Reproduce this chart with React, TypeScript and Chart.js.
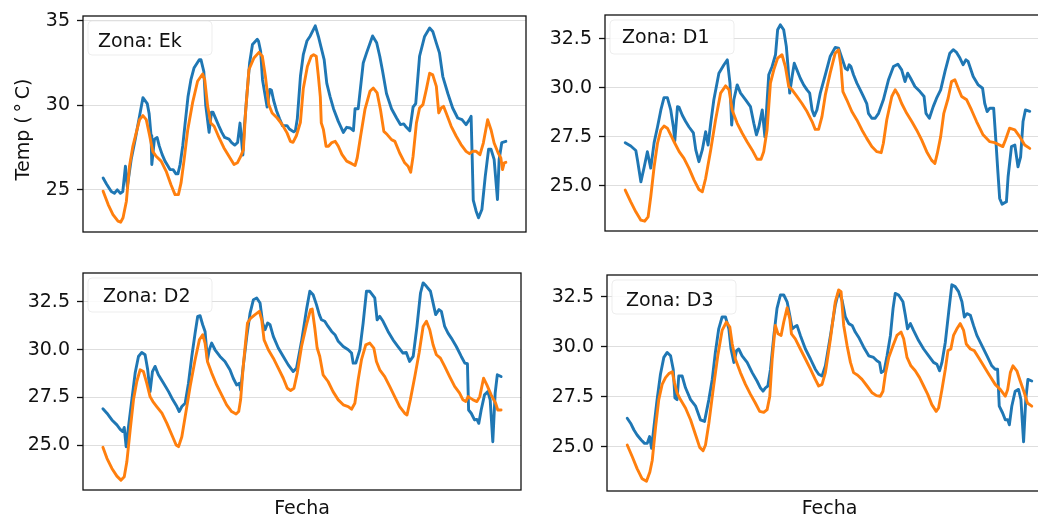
import React, { useEffect, useRef } from 'react';
import { Chart, registerables } from 'chart.js';

Chart.register(...registerables);

// ---------------- DATA (hours since start, temperature °C) ----------------
const ZONES = ['Ek', 'D1', 'D2', 'D3'];

const EK_BLUE_H = [0,1.4,3.4,4.7,5.9,7.2,8.2,9.3,10.1,11.7,13.4,15.1,16.6,18.4,19.2,20.0,20.3,21.4,22.5,23.4,24.6,25.8,27.1,27.9,29.2,30.4,31.2,32.1,33.2,34.1,35.4,36.6,37.9,40.1,40.8,42.0,42.8,44.2,45.2,45.8,47.0,48.2,49.5,50.7,52.5,53.6,54.9,56.1,57.1,58.3,58.8,59.9,61.1,62.3,64.3,64.8,65.7,66.5,68.4,69.5,70.2,71.1,72.3,73.6,74.8,76.7,77.7,79.5,80.2,81.0,82.3,83.5,85.0,86.4,88.5,89.8,90.8,92.2,93.3,94.7,96.1,98.1,100.2,101.6,103.0,104.4,105.1,106.4,108.5,109.9,112.4,114.1,115.4,116.6,118.2,120.3,122.4,124.0,125.4,126.5,127.9,129.3,130.4,132.0,134.1,136.2,137.5,139.0,140.3,141.7,143.8,145.8,147.9,149.7,151.4,152.8,153.5,153.9,154.4,155.6,156.6,158.0,159.4,160.8,161.8,163.1,164.5,165.2,166.3,168.0];
const EK_BLUE_T = [25.7,25.35,24.9,24.8,25.0,24.8,24.9,26.4,25.2,26.8,28.0,29.3,30.45,30.1,29.5,28.2,26.5,28.0,28.1,27.6,27.1,26.7,26.4,26.2,26.2,25.95,25.95,26.5,27.6,28.8,30.5,31.5,32.2,32.7,32.7,32.0,30.0,28.4,29.6,29.6,29.2,28.8,28.4,28.1,28.0,27.8,27.65,27.8,28.95,27.06,28.5,30.5,32.5,33.6,33.9,33.8,33.2,31.5,29.9,30.94,30.9,30.3,29.7,29.2,28.8,28.8,28.6,28.43,28.5,29.2,31.7,33.0,33.8,34.1,34.7,34.07,33.5,32.7,31.3,30.5,29.8,29.05,28.4,28.7,28.66,28.5,29.8,29.8,32.5,33.1,34.1,33.7,32.9,32.0,30.7,29.8,29.25,28.86,28.9,28.7,28.5,29.9,30.1,32.9,34.07,34.57,34.37,33.68,33.1,31.7,30.7,29.84,29.25,29.15,28.86,29.15,29.35,27.2,24.4,23.74,23.35,23.84,25.8,27.4,27.4,26.8,24.43,26.8,27.8,27.87];
const EK_ORANGE_H = [0,2.1,4.1,6.2,7.3,8.3,9.7,11.0,12.4,13.8,15.2,16.6,18.0,19.3,20.7,22.1,24.2,26.3,28.3,30.0,31.4,32.5,33.8,35.3,37.3,39.4,41.5,42.4,43.6,44.9,46.3,48.4,50.4,52.5,54.6,56.0,57.4,58.5,59.4,60.8,62.9,65.0,66.4,67.7,69.1,70.5,72.6,74.7,76.7,78.1,79.2,80.6,82.3,83.5,85.2,86.8,87.8,88.9,89.8,90.6,91.0,91.9,93.0,94.0,95.4,96.8,98.1,99.6,101.6,103.7,105.1,106.0,107.4,109.2,111.3,112.7,114.3,115.7,117.1,118.5,120.3,121.7,123.7,125.8,127.2,128.3,129.3,130.7,132.0,133.4,134.8,136.2,137.5,139.0,140.0,141.0,142.0,143.1,145.2,147.3,149.3,151.4,152.8,154.1,155.6,157.2,158.6,160.4,161.8,163.1,164.8,165.9,166.6,167.3,168.0];
const EK_ORANGE_T = [24.92,24.13,23.54,23.15,23.09,23.35,24.33,26.4,27.58,28.37,29.15,29.39,29.15,28.27,27.28,26.99,26.7,26.1,25.3,24.72,24.72,25.41,26.8,28.56,30.14,31.42,31.85,31.5,29.94,28.96,28.76,28.07,27.48,26.99,26.5,26.6,26.99,27.38,29.55,32.1,32.8,33.13,32.9,31.7,30.04,29.55,29.25,28.86,28.37,27.87,27.81,28.2,29.0,31.0,32.3,32.9,32.99,32.9,31.7,30.5,28.96,28.56,27.58,27.58,27.8,27.87,27.58,27.1,26.7,26.55,26.44,26.9,28.17,29.74,30.83,31.02,30.73,29.74,28.46,28.27,27.97,27.87,27.18,26.6,26.4,26.04,26.99,28.96,29.84,30.04,30.93,31.9,31.8,31.12,29.55,29.84,29.94,29.55,28.76,28.17,27.68,27.28,27.14,27.28,27.28,27.08,27.77,29.15,28.56,27.77,27.18,26.89,26.2,26.6,26.63];

const D1_BLUE_H = [0,2.3,4.4,5.1,6.5,7.9,9.2,10.6,12.0,13.4,14.8,16.1,17.5,18.9,20.0,20.6,21.7,22.4,23.7,25.1,26.5,28.3,29.3,30.6,32.0,33.4,34.4,35.5,36.8,38.9,41.0,42.4,43.5,44.2,45.1,46.5,47.9,50.0,52.0,53.4,54.5,55.5,56.9,58.0,59.6,61.0,62.4,63.3,64.4,65.8,66.9,67.6,68.3,69.3,70.2,71.3,72.7,74.1,75.5,76.6,77.6,78.5,79.6,81.0,83.1,85.1,87.2,88.6,90.0,91.4,92.3,93.0,93.7,94.8,96.2,97.6,98.9,100.3,101.0,102.4,103.8,105.2,107.2,109.3,111.4,113.2,114.8,116.2,117.3,118.5,120.3,122.4,124.1,124.9,126.3,127.9,129.3,131.0,132.8,134.8,136.2,137.6,139.0,140.3,141.5,142.4,144.5,146.6,148.4,149.3,150.3,151.4,153.0,153.9,154.8,155.5,156.5,158.3,159.0,160.4,161.8,163.1,164.2,165.2,166.2,168.0];
const D1_BLUE_T = [27.2,27.03,26.8,26.3,25.2,25.97,26.74,25.9,27.2,28.0,28.87,29.5,29.5,28.87,28.0,27.3,29.04,29.0,28.6,28.28,28.0,27.7,26.83,26.23,26.83,27.76,27.08,28.19,29.39,30.75,31.18,31.43,30.24,28.1,29.39,30.15,29.73,29.39,29.04,28.19,27.6,28.0,28.87,27.5,30.67,31.09,31.69,32.97,33.22,32.97,32.12,31.09,29.73,30.58,31.26,30.92,30.49,30.15,29.9,29.73,28.87,28.57,28.87,29.73,30.67,31.6,32.06,32.03,31.52,31.0,30.92,31.18,31.09,30.67,30.24,29.9,29.56,29.2,28.7,28.45,28.45,28.7,29.39,30.4,31.09,31.21,30.92,30.32,30.75,30.49,30.07,29.81,29.56,28.7,28.45,29.04,29.47,29.9,30.84,31.77,31.95,31.81,31.52,31.18,31.43,31.35,30.58,30.15,29.98,29.2,28.79,28.96,28.96,27.34,25.63,24.35,24.06,24.18,25.46,27.0,27.08,25.97,26.48,28.28,28.87,28.8];
const D1_ORANGE_H = [0,2.3,4.4,6.5,8.1,9.5,10.6,12.0,13.4,14.8,16.1,17.5,18.9,20.6,22.4,24.4,26.5,28.6,30.6,32.0,33.4,35.5,37.5,39.6,41.7,43.1,44.4,46.5,48.6,50.6,52.7,54.8,56.4,57.5,58.9,60.3,61.7,63.3,65.1,66.5,67.9,69.3,71.3,73.4,75.5,77.6,78.9,80.3,81.7,83.1,85.1,87.2,88.6,89.6,90.4,92.0,94.1,96.2,98.3,100.3,102.4,104.5,106.3,107.2,108.6,110.7,112.1,113.4,114.8,116.9,119.0,121.0,123.1,125.2,127.2,128.6,129.6,131.0,132.3,134.1,135.5,136.9,138.3,139.7,141.8,143.8,145.9,148.6,151.4,153.4,156.8,157.9,159.6,161.8,163.8,165.9,168.0];
const D1_ORANGE_T = [24.78,24.18,23.67,23.24,23.19,23.41,24.44,25.97,27.17,27.85,28.05,27.94,27.6,27.17,26.74,26.4,25.89,25.29,24.81,24.69,25.38,26.83,28.36,29.73,30.1,29.9,28.87,28.19,27.68,27.25,26.83,26.35,26.35,26.74,27.85,30.24,30.92,31.52,31.69,31.09,30.07,29.9,29.56,29.2,28.79,28.28,27.88,27.88,28.53,29.64,30.75,31.77,31.95,31.09,29.81,29.39,28.79,28.36,27.85,27.42,27.0,26.74,26.69,27.17,28.36,29.56,29.9,29.64,29.2,28.7,28.28,27.85,27.34,26.74,26.31,26.14,26.65,27.51,28.7,29.47,30.32,30.41,29.98,29.56,29.39,28.87,28.28,27.6,27.25,27.2,27.0,27.34,27.94,27.85,27.51,27.08,26.91];

const D2_BLUE_H = [0,1.7,3.8,5.9,7.3,8.4,9.0,9.8,10.8,12.2,13.6,15.0,16.4,17.8,18.9,19.9,20.9,22.0,23.4,25.6,27.7,29.5,31.2,32.2,33.3,34.7,36.1,37.5,38.9,40.0,41.0,42.1,43.1,44.1,44.9,45.9,47.3,49.4,51.5,53.6,55.0,56.4,57.6,58.1,59.2,60.7,62.1,63.5,64.9,66.3,67.4,68.4,69.5,70.5,71.9,74.0,76.1,78.2,80.3,81.7,83.8,85.9,87.3,88.7,90.1,91.3,92.2,93.6,95.0,96.5,97.9,99.3,101.4,103.5,104.9,105.6,106.7,108.4,109.8,111.2,112.6,114.7,115.7,116.8,118.2,120.3,122.4,124.5,126.6,128.0,129.4,130.9,132.5,134.0,135.1,136.5,138.2,139.3,140.4,141.8,142.8,144.2,145.6,147.0,149.1,151.2,152.7,153.8,154.3,155.4,156.8,157.8,158.6,159.6,161.0,162.4,163.4,164.5,165.5,166.4,168.0];
const D2_BLUE_T = [26.91,26.68,26.33,26.07,25.84,25.72,25.94,24.93,25.98,27.38,28.78,29.65,29.86,29.74,28.95,27.81,28.86,29.13,28.69,28.25,27.81,27.38,27.03,26.77,27.03,27.2,28.25,29.65,30.87,31.75,31.78,31.31,30.96,29.48,30.0,30.35,30.0,29.65,29.39,28.95,28.51,28.16,28.25,27.9,29.13,30.7,31.92,32.62,32.71,32.45,31.4,31.05,31.4,31.31,30.7,30.09,29.65,29.21,28.86,29.04,30.44,32.1,33.06,32.88,32.36,31.84,31.57,31.49,31.22,30.96,30.79,30.44,30.17,30.0,29.83,29.3,29.3,30.0,31.4,33.06,33.06,32.71,31.57,31.75,31.49,30.96,30.52,30.17,29.83,29.86,29.39,29.65,31.22,32.97,33.5,33.32,33.06,32.45,31.84,32.1,32.01,31.22,30.87,30.61,30.17,29.65,29.3,29.27,26.85,26.68,26.33,26.36,26.15,26.85,27.64,27.81,27.38,25.19,27.73,28.69,28.6];
const D2_ORANGE_H = [0,1.7,3.8,5.9,7.6,9.0,10.1,11.5,12.9,14.3,15.7,17.1,18.5,19.9,21.1,22.7,24.9,27.0,29.1,30.9,31.9,33.3,34.7,36.8,38.9,40.7,42.1,43.1,44.1,45.9,48.0,50.1,52.2,54.3,56.2,57.3,58.1,59.2,61.0,62.4,64.2,66.0,67.0,68.0,69.8,71.9,74.0,76.1,77.8,79.2,80.6,82.0,83.8,85.9,87.6,88.3,89.4,90.4,91.5,92.9,95.0,97.1,99.3,101.4,103.5,104.9,106.3,107.7,109.1,110.9,112.6,114.3,115.4,116.8,118.9,121.0,123.1,125.2,127.3,128.3,129.7,131.6,133.4,135.1,136.5,137.9,139.3,140.7,142.4,144.2,146.3,148.4,150.5,151.9,153.1,154.1,156.2,157.8,159.0,160.6,162.0,163.8,165.7,166.6,168.0];
const D2_ORANGE_T = [24.9,24.32,23.79,23.39,23.18,23.36,24.14,25.8,27.38,28.34,28.95,28.86,28.25,27.55,27.29,27.03,26.68,26.15,25.54,25.02,24.93,25.45,26.5,28.08,29.48,30.52,30.79,30.35,29.39,28.78,28.16,27.64,27.12,26.77,26.64,26.77,27.38,29.13,31.4,31.66,31.84,32.01,31.57,30.52,30.0,29.56,29.04,28.51,27.99,27.87,27.99,28.78,30.17,31.31,32.1,32.13,31.14,30.09,29.65,28.69,28.34,27.81,27.38,27.12,27.03,26.89,27.2,28.43,29.48,30.26,30.35,30.09,29.39,28.95,28.6,28.08,27.55,27.03,26.68,26.59,27.38,28.6,29.83,31.22,31.49,31.05,30.26,29.74,29.56,29.13,28.6,28.08,27.73,27.38,27.29,27.55,27.38,27.29,27.55,28.51,28.16,27.64,27.2,26.85,26.85];

const D3_BLUE_H = [0,1.4,2.8,4.1,5.8,7.2,8.3,9.3,10.1,11.1,12.4,13.8,15.2,16.6,18.0,19.1,19.8,20.7,21.4,22.8,24.2,26.3,28.4,30.4,32.1,33.9,35.3,36.6,38.0,39.4,40.8,42.2,43.1,44.3,45.4,46.3,47.7,49.8,51.9,53.9,55.3,56.4,57.4,58.4,59.5,60.9,62.2,63.6,65.0,66.4,67.5,68.5,69.4,70.5,71.9,74.0,76.1,78.1,79.5,80.9,82.3,84.4,86.4,87.8,89.2,90.6,92.0,93.4,94.7,96.1,98.2,100.3,102.3,103.7,104.8,105.5,106.7,107.9,109.3,110.4,111.3,112.7,114.5,115.5,116.4,117.6,118.9,121.0,123.1,125.2,127.2,128.6,129.7,130.7,132.1,133.5,134.8,136.2,137.6,139.0,140.0,141.1,142.5,143.8,145.2,147.3,149.4,151.4,152.8,153.8,154.5,155.9,157.0,158.0,158.7,159.7,161.1,162.5,163.5,164.6,165.5,166.4,168.0];
const D3_BLUE_T = [26.42,26.17,25.83,25.58,25.33,25.16,25.16,25.5,24.91,26.0,27.35,28.62,29.46,29.71,29.54,28.87,27.44,27.35,28.53,28.53,27.94,27.35,27.02,26.34,26.26,27.35,28.36,29.71,30.89,31.48,31.48,30.89,29.88,29.21,29.8,29.88,29.54,29.21,28.7,28.28,27.94,27.77,27.94,28.03,28.87,30.56,31.91,32.58,32.58,32.24,31.57,30.89,30.98,31.06,30.56,29.88,29.38,28.87,28.62,28.53,29.04,30.56,32.07,32.75,32.33,31.48,31.15,31.06,30.73,30.47,29.97,29.54,29.46,29.29,29.21,28.7,28.79,29.54,30.56,31.91,32.66,32.58,32.24,31.57,30.89,31.15,30.81,30.3,29.88,29.54,29.21,29.12,28.79,29.21,30.22,31.74,33.09,33.0,32.75,32.24,31.48,31.65,31.57,31.06,30.56,30.05,29.54,29.04,28.87,28.87,27.02,26.68,26.34,26.34,26.09,27.02,27.77,27.86,27.35,25.24,27.35,28.36,28.28];
const D3_ORANGE_H = [0,2.1,4.1,6.2,8.0,9.4,10.4,11.8,13.1,14.5,15.9,17.3,18.7,19.6,20.7,22.1,24.2,26.3,28.4,30.1,31.5,32.5,33.9,35.7,37.6,39.4,41.2,42.6,43.6,44.9,47.0,49.1,51.2,53.2,55.0,56.7,58.1,59.2,60.2,61.5,62.6,63.9,65.0,66.4,67.5,68.2,69.8,71.9,74.0,76.1,78.1,79.5,80.9,82.3,84.4,86.4,87.8,88.8,89.9,91.3,92.7,94.0,95.7,97.5,99.6,101.7,103.5,105.1,106.2,107.2,108.6,110.4,112.0,113.7,114.8,116.2,117.8,119.6,121.4,123.1,124.8,126.5,128.3,129.3,130.7,132.1,133.2,134.4,135.5,136.9,138.3,139.7,140.8,142.5,144.1,145.9,148.0,149.7,151.0,152.8,154.9,157.0,158.0,159.1,160.2,161.8,163.2,164.9,166.2,168.0];
const D3_ORANGE_T = [25.08,24.49,23.9,23.39,23.27,23.73,24.32,26.0,27.35,28.11,28.45,28.65,28.74,28.2,27.69,27.35,26.93,26.34,25.58,24.96,24.79,25.08,26.17,27.86,29.54,30.81,31.23,30.98,30.13,29.38,28.7,28.11,27.61,27.18,26.76,26.71,26.85,27.52,29.38,31.06,30.64,30.56,31.23,31.94,31.4,30.64,30.39,29.88,29.38,28.87,28.36,28.03,28.11,28.7,30.39,32.24,32.83,32.75,31.06,30.05,29.21,28.7,28.57,28.36,28.03,27.69,27.55,27.52,27.77,28.62,29.46,30.05,30.56,30.73,30.39,29.46,29.04,28.79,28.45,28.03,27.61,27.1,26.76,26.93,27.86,28.87,29.8,29.88,30.56,30.89,31.15,30.81,30.13,29.88,29.8,29.46,29.04,28.7,28.45,28.11,27.86,27.52,27.86,28.7,29.04,28.79,28.28,27.69,27.18,27.02];

const TICKS_EK = [25, 30, 35];
const TICK_LABELS_EK = ['25', '30', '35'];
const TICKS_D = [25, 27.5, 30, 32.5];
const TICK_LABELS_D = ['25.0', '27.5', '30.0', '32.5'];

const Y_TITLE = 'Temp (\u2009°\u2009C)';
const X_TITLE = 'Fecha';

// ---------------- STYLE / LAYOUT ----------------
const FONT = '"DejaVu Sans", "Liberation Sans", sans-serif';
const BLUE = '#1f77b4';
const ORANGE = '#ff7f0e';
const AXW = 80;     // y-axis area width
const PAD = 16;     // padding around box inside canvas
const H_START = 0;
const H_END = 168;

type PanelCfg = {
  zone: string;
  blueH: number[]; blueT: number[];
  orangeH: number[]; orangeT: number[];
  ticks: number[]; tickLabels: string[];
  boxL: number; boxT: number; boxW: number; boxH: number;
  textDX: number; textBase: number;
  yTitle: boolean; xTitle: boolean;
};

const PANELS: PanelCfg[] = [
  { zone: ZONES[0], blueH: EK_BLUE_H, blueT: EK_BLUE_T, orangeH: EK_ORANGE_H, orangeT: EK_ORANGE_T,
    ticks: TICKS_EK, tickLabels: TICK_LABELS_EK, boxL: 83, boxT: 16, boxW: 443, boxH: 216,
    textDX: 15, textBase: 31, yTitle: true, xTitle: false },
  { zone: ZONES[1], blueH: D1_BLUE_H, blueT: D1_BLUE_T, orangeH: D1_ORANGE_H, orangeT: D1_ORANGE_T,
    ticks: TICKS_D, tickLabels: TICK_LABELS_D, boxL: 605, boxT: 15, boxW: 445, boxH: 216,
    textDX: 17, textBase: 28, yTitle: false, xTitle: false },
  { zone: ZONES[2], blueH: D2_BLUE_H, blueT: D2_BLUE_T, orangeH: D2_ORANGE_H, orangeT: D2_ORANGE_T,
    ticks: TICKS_D, tickLabels: TICK_LABELS_D, boxL: 83, boxT: 273, boxW: 438, boxH: 217,
    textDX: 20, textBase: 29, yTitle: false, xTitle: true },
  { zone: ZONES[3], blueH: D3_BLUE_H, blueT: D3_BLUE_T, orangeH: D3_ORANGE_H, orangeT: D3_ORANGE_T,
    ticks: TICKS_D, tickLabels: TICK_LABELS_D, boxL: 607, boxT: 275, boxW: 445, boxH: 216,
    textDX: 19, textBase: 31, yTitle: false, xTitle: true },
];

function zip(h: number[], t: number[]) {
  const n = Math.min(h.length, t.length);
  const out: { x: number; y: number }[] = [];
  for (let i = 0; i < n; i++) out.push({ x: h[i], y: t[i] });
  return out;
}

function Panel({ cfg }: { cfg: PanelCfg }) {
  const ref = useRef<HTMLCanvasElement>(null);
  const extraBottom = cfg.xTitle ? 34 : 0;
  const cw = cfg.boxW + AXW + PAD;
  const ch = cfg.boxH + PAD * 2 + extraBottom;
  const cl = cfg.boxL - AXW;
  const ct = cfg.boxT - PAD;

  useEffect(() => {
    const canvas = ref.current;
    if (!canvas) return;
    const all = [...cfg.blueT, ...cfg.orangeT];
    const lo = Math.min(...all);
    const hi = Math.max(...all);
    const r = hi - lo;
    const xr = H_END - H_START;

    const decor = {
      id: 'decor' + cfg.zone,
      afterDraw(chart: any) {
        const ctx = chart.ctx as CanvasRenderingContext2D;
        const a = chart.chartArea;
        ctx.save();
        // axes frame
        ctx.strokeStyle = '#111';
        ctx.lineWidth = 1.3;
        ctx.strokeRect(a.left, a.top, a.right - a.left, a.bottom - a.top);
        // legend box
        const lx = a.left + 5, ly = a.top + 5, lw = 124, lh = 34;
        ctx.beginPath();
        (ctx as any).roundRect ? (ctx as any).roundRect(lx, ly, lw, lh, 4) : ctx.rect(lx, ly, lw, lh);
        ctx.fillStyle = 'rgba(255,255,255,0.85)';
        ctx.fill();
        ctx.strokeStyle = 'rgba(225,225,225,0.6)';
        ctx.lineWidth = 1;
        ctx.stroke();
        ctx.fillStyle = '#111';
        ctx.font = `19px ${FONT}`;
        ctx.textAlign = 'left';
        ctx.textBaseline = 'alphabetic';
        ctx.fillText('Zona: ' + cfg.zone, a.left + cfg.textDX, a.top + cfg.textBase);
        // axis titles
        if (cfg.yTitle) {
          ctx.save();
          ctx.translate(23.7 - cl, 129.5 - ct);
          ctx.rotate(-Math.PI / 2);
          ctx.textAlign = 'center';
          ctx.textBaseline = 'middle';
          ctx.fillText(Y_TITLE, 0, 0);
          ctx.restore();
        }
        if (cfg.xTitle) {
          ctx.textAlign = 'center';
          ctx.textBaseline = 'alphabetic';
          ctx.fillText(X_TITLE, (a.left + a.right) / 2, 514 - ct);
        }
        ctx.restore();
      },
    };

    const chart = new Chart(canvas, {
      type: 'line',
      data: {
        datasets: [
          { data: zip(cfg.orangeH, cfg.orangeT), borderColor: ORANGE, borderWidth: 2.9,
            pointRadius: 0, tension: 0, fill: false, borderJoinStyle: 'round', borderCapStyle: 'round' },
          { data: zip(cfg.blueH, cfg.blueT), borderColor: BLUE, borderWidth: 2.9,
            pointRadius: 0, tension: 0, fill: false, borderJoinStyle: 'round', borderCapStyle: 'round' },
        ],
      },
      options: {
        animation: false,
        responsive: false,
        events: [],
        layout: { padding: { left: 0, top: PAD, right: PAD, bottom: PAD + extraBottom } },
        plugins: { legend: { display: false }, tooltip: { enabled: false }, title: { display: false } },
        scales: {
          x: {
            type: 'linear',
            display: false,
            min: H_START - 0.05 * xr,
            max: H_END + 0.05 * xr,
          },
          y: {
            type: 'linear',
            min: lo - 0.05 * r,
            max: hi + 0.05 * r,
            afterBuildTicks: (scale: any) => {
              scale.ticks = cfg.ticks.map((v) => ({ value: v }));
            },
            afterFit: (scale: any) => {
              scale.width = AXW;
              scale.paddingTop = 0;
              scale.paddingBottom = 0;
            },
            border: { display: false },
            grid: {
              color: '#dedede',
              lineWidth: 1,
              drawTicks: true,
              tickLength: 6,
              tickColor: '#111',
              tickWidth: 1.3,
            },
            ticks: {
              color: '#111',
              padding: 7,
              font: { family: FONT, size: 19 },
              callback: (v: any) => {
                const i = cfg.ticks.indexOf(Number(v));
                return i >= 0 ? cfg.tickLabels[i] : '';
              },
            },
          },
        },
      },
      plugins: [decor],
    } as any);
    return () => chart.destroy();
  }, []);

  return (
    <canvas
      ref={ref}
      width={cw}
      height={ch}
      style={{ position: 'absolute', left: cl, top: ct, width: cw, height: ch }}
    />
  );
}

export default function App() {
  return (
    <div
      style={{
        position: 'fixed', left: 0, top: 0, width: 1038, height: 517,
        overflow: 'hidden', background: '#fff',
      }}
    >
      {PANELS.map((p) => (
        <Panel key={p.zone} cfg={p} />
      ))}
    </div>
  );
}
